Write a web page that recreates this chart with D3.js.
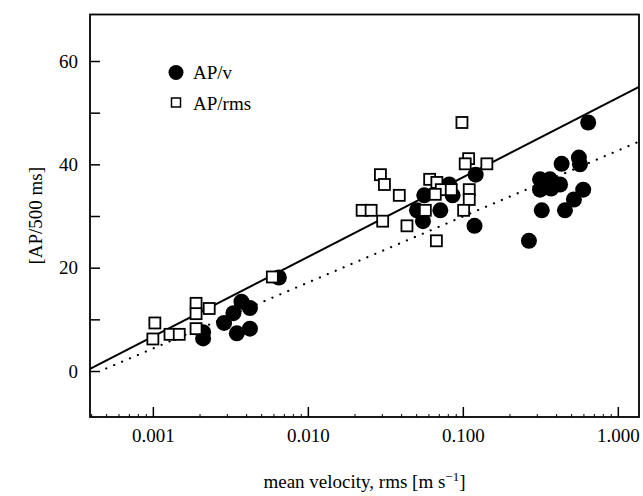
<!DOCTYPE html>
<html>
<head>
<meta charset="utf-8">
<script src="https://cdn.jsdelivr.net/npm/d3@7"></script>
<style>
  body { margin: 0; background: #fff; }
  svg text { font-family: "Liberation Serif", "Times New Roman", serif; }
</style>
</head>
<body>
<svg id="chart" width="643" height="496"></svg>
<script>
"use strict";

// AP/v (filled circles)
var apvX = [0.0065, 0.00211, 0.00211, 0.00288, 0.00331, 0.00373, 0.00423, 0.00348, 0.00423,
    0.0564, 0.0817, 0.0859, 0.121, 0.0506, 0.0553, 0.0716, 0.119, 0.267,
    0.644, 0.434, 0.561, 0.570, 0.315, 0.365, 0.315, 0.371, 0.424, 0.598, 0.521, 0.323, 0.456]
var apvY = [18.1, 6.3, 7.5, 9.3, 11.2, 13.4, 12.2, 7.3, 8.2,
    34.0, 36.1, 34.0, 38.0, 31.1, 29.0, 31.1, 28.1, 25.2,
    48.1, 40.1, 41.3, 40.0, 37.1, 37.1, 35.1, 35.3, 36.1, 35.1, 33.2, 31.1, 31.1]

// AP/rms (open squares)
var aprmsX = [0.0059, 0.0019, 0.0019, 0.00231, 0.0019, 0.00103, 0.0010, 0.00129, 0.00148,
    0.0987, 0.109, 0.1036, 0.1429, 0.0294, 0.0312, 0.0389, 0.0611, 0.068, 0.0726, 0.0842,
    0.0664, 0.110, 0.110, 0.0224, 0.0256, 0.0304, 0.0573, 0.1012, 0.0436, 0.0675]
var aprmsY = [18.2, 13.1, 11.1, 12.1, 8.2, 9.3, 6.2, 7.1, 7.1,
    48.1, 41.1, 40.1, 40.1, 38.0, 36.1, 34.0, 37.1, 36.5, 35.1, 35.1,
    34.2, 35.1, 33.2, 31.1, 31.1, 29.0, 31.1, 31.1, 28.1, 25.2]

// fitted lines, endpoints
var solidLine = [[0.000393, 0.4], [1.37, 55.0]]
var dottedLine = [[0.0005, 0.5], [1.37, 44.4]]

var xTicks = [0.001, 0.01, 0.1, 1]
var xTickLabels = ["0.001", "0.010", "0.100", "1.000"]
var yTicks = [0, 20, 40, 60]
var yMinorTicks = [10, 30, 50]

var svg = d3.select("#chart")
var margin = {top: 14.5, right: 4, bottom: 79, left: 90}
var width = 643 - margin.left - margin.right
var height = 496 - margin.top - margin.bottom

var x = d3.scaleLog().domain([0.000393, 1.37]).range([0, width])
var y = d3.scaleLinear().domain([-8.9, 69]).range([height, 0])

var g = svg.append("g")
    .attr("transform", "translate(" + margin.left + "," + margin.top + ")")

g.append("defs").append("clipPath").attr("id", "clip")
    .append("rect").attr("width", width).attr("height", height)

// minor x ticks
var xMinor = []
xTicks.concat([0.0001]).forEach(function (d) {
    for (var k = 2; k <= 9; k++) {
        var v = d * k
        if (v > x.domain()[0] && v < x.domain()[1]) xMinor.push(v)
    }
})

var serif = "Liberation Serif, Times New Roman, serif"

var xAxis = g.append("g")
    .attr("transform", "translate(0," + height + ")")
    .call(d3.axisBottom(x).tickValues(xTicks).tickFormat((d, i) => xTickLabels[i])
        .tickSizeInner(-10).tickSizeOuter(0).tickPadding(12))
xAxis.attr("font-family", serif)
xAxis.select(".domain").remove()
xAxis.selectAll("text").attr("font-size", 19).attr("fill", "#000").attr("font-family", serif)
xAxis.selectAll("line").attr("stroke-width", 1.5)

var xAxisMinor = g.append("g")
    .attr("transform", "translate(0," + height + ")")
    .call(d3.axisBottom(x).tickValues(xMinor).tickFormat("").tickSizeInner(-3).tickSizeOuter(0))
xAxisMinor.select(".domain").remove()

var yAxis = g.append("g")
    .call(d3.axisLeft(y).tickValues(yTicks.concat(yMinorTicks))
        .tickFormat(d => yTicks.indexOf(d) >= 0 ? d : "")
        .tickSizeInner(-10).tickSizeOuter(0).tickPadding(12))
yAxis.attr("font-family", serif)
yAxis.select(".domain").remove()
yAxis.selectAll("text").attr("font-size", 19).attr("fill", "#000").attr("font-family", serif)
yAxis.selectAll("line").attr("stroke-width", 1.5)

// frame
g.append("rect")
    .attr("width", width).attr("height", height)
    .attr("fill", "none").attr("stroke", "#000").attr("stroke-width", 1.8)

var line = d3.line().x(d => x(d[0])).y(d => y(d[1]))

var plot = g.append("g").attr("clip-path", "url(#clip)")

plot.append("path").datum(solidLine)
    .attr("d", line).attr("fill", "none").attr("stroke", "#000").attr("stroke-width", 2)

plot.append("path").datum(dottedLine)
    .attr("d", line).attr("fill", "none").attr("stroke", "#000").attr("stroke-width", 2.2)
    .attr("stroke-linecap", "round").attr("stroke-dasharray", "0.1 8.5")

var apv = apvX.map((d, i) => [d, apvY[i]])
var aprms = aprmsX.map((d, i) => [d, aprmsY[i]])

plot.selectAll(".apv").data(apv).enter().append("circle")
    .attr("class", "apv")
    .attr("cx", d => x(d[0])).attr("cy", d => y(d[1]))
    .attr("r", 8).attr("fill", "#000")

var sq = 11
plot.selectAll(".aprms").data(aprms).enter().append("rect")
    .attr("class", "aprms")
    .attr("x", d => x(d[0]) - sq / 2).attr("y", d => y(d[1]) - sq / 2)
    .attr("width", sq).attr("height", sq)
    .attr("fill", "#fff").attr("stroke", "#000").attr("stroke-width", 1.8)

// legend
var legend = g.append("g").attr("transform", "translate(86,58)")
legend.append("circle").attr("cx", 0).attr("cy", 0).attr("r", 7.5).attr("fill", "#000")
legend.append("text").attr("x", 17).attr("y", 6.5).attr("font-size", 19).text("AP/v")
legend.append("rect").attr("x", -4.5).attr("y", 25.5).attr("width", 9).attr("height", 9)
    .attr("fill", "#fff").attr("stroke", "#000").attr("stroke-width", 1.5)
legend.append("text").attr("x", 17).attr("y", 37).attr("font-size", 19).text("AP/rms")

// axis titles
var xt = svg.append("text")
    .attr("x", margin.left + width / 2).attr("y", 488)
    .attr("text-anchor", "middle").attr("font-size", 19)
xt.append("tspan").text("mean velocity, rms [m s")
xt.append("tspan").attr("dy", -7).attr("font-size", 13).text("\u22121")
xt.append("tspan").attr("dy", 7).text("]")

svg.append("text")
    .attr("transform", "translate(42," + (margin.top + height / 2) + ") rotate(-90)")
    .attr("text-anchor", "middle").attr("font-size", 19)
    .text("[AP/500 ms]")
</script>
</body>
</html>
